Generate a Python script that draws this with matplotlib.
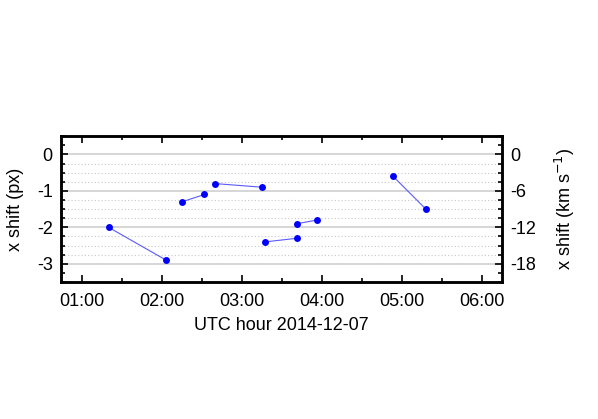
import matplotlib
matplotlib.use("Agg")
import matplotlib.pyplot as plt
from matplotlib.ticker import MultipleLocator, FixedLocator
import numpy as np

plt.rcParams['font.family'] = ['Liberation Sans', 'DejaVu Sans']

# UTC hour (decimal) and x shift (px), one list per connected run
seg_hours = [
    [1.33, 2.05],
    [2.25, 2.53],
    [2.66, 3.25],
    [3.29, 3.69],
    [3.69, 3.94],
    [4.89, 5.30],
]
seg_shift = [
    [-2.0, -2.9],
    [-1.3, -1.1],
    [-0.8, -0.9],
    [-2.4, -2.3],
    [-1.9, -1.8],
    [-0.6, -1.5],
]
xtick_hours = [1, 2, 3, 4, 5, 6]
xtick_labels = ["01:00", "02:00", "03:00", "04:00", "05:00", "06:00"]
px_to_kms = 6.0
fs = 13

fig = plt.figure(figsize=(5.98, 4.19), dpi=100)
ax = fig.add_axes([0.102, 0.327, 0.737, 0.348])

for h, s in zip(seg_hours, seg_shift):
    ax.plot(h, s, color='#5a5aff', lw=0.8, zorder=3)
    ax.plot(h, s, 'o', color='#0000ff', ms=5, mec='none', zorder=4)

ax.set_xlim(0.735, 6.25)
ax.set_ylim(-3.5, 0.5)

# grid: solid at integers, dotted at quarters
for y in np.arange(-3, 0.01, 0.25):
    if abs(y - round(y)) < 1e-6:
        ax.axhline(y, color='#d0d0d0', lw=1.2, zorder=1)
    else:
        ax.axhline(y, color='#c8c8c8', lw=0.8, ls=(0, (1, 2)), zorder=1)

ax.xaxis.set_major_locator(FixedLocator(xtick_hours))
ax.set_xticklabels(xtick_labels)
ax.xaxis.set_minor_locator(MultipleLocator(0.5))
ax.yaxis.set_minor_locator(MultipleLocator(0.25))
ax.set_yticks([-3, -2, -1, 0])
ax.set_yticklabels(["-3", "-2", "-1", "0"])

ax.tick_params(which='both', direction='in', top=True, right=False, labelsize=fs, width=1.2)
ax.tick_params(which='major', length=5)
ax.tick_params(which='minor', length=3)
ax.tick_params(axis='x', pad=8)
ax.tick_params(axis='y', pad=6)
for sp in ax.spines.values():
    sp.set_linewidth(1.8)

ax.set_xlabel("UTC hour 2014-12-07", fontsize=fs, labelpad=5)
ax.set_ylabel("x shift (px)", fontsize=fs, labelpad=9)

ax2 = ax.twinx()
ax2.set_ylim(-3.5 * px_to_kms, 0.5 * px_to_kms)
ax2.set_yticks([-18, -12, -6, 0])
ax2.set_yticklabels(["-18", "-12", "-6", "0"])
ax2.yaxis.set_minor_locator(MultipleLocator(1.5))
ax2.tick_params(which='both', direction='in', labelsize=fs, width=1.2, pad=6)
ax2.tick_params(which='major', length=5)
ax2.tick_params(which='minor', length=3)
for sp in ax2.spines.values():
    sp.set_linewidth(1.8)
ax2.set_ylabel("x shift (km s$^{-1}$)", fontsize=fs, labelpad=12)

fig.savefig("out.png", dpi=100)
